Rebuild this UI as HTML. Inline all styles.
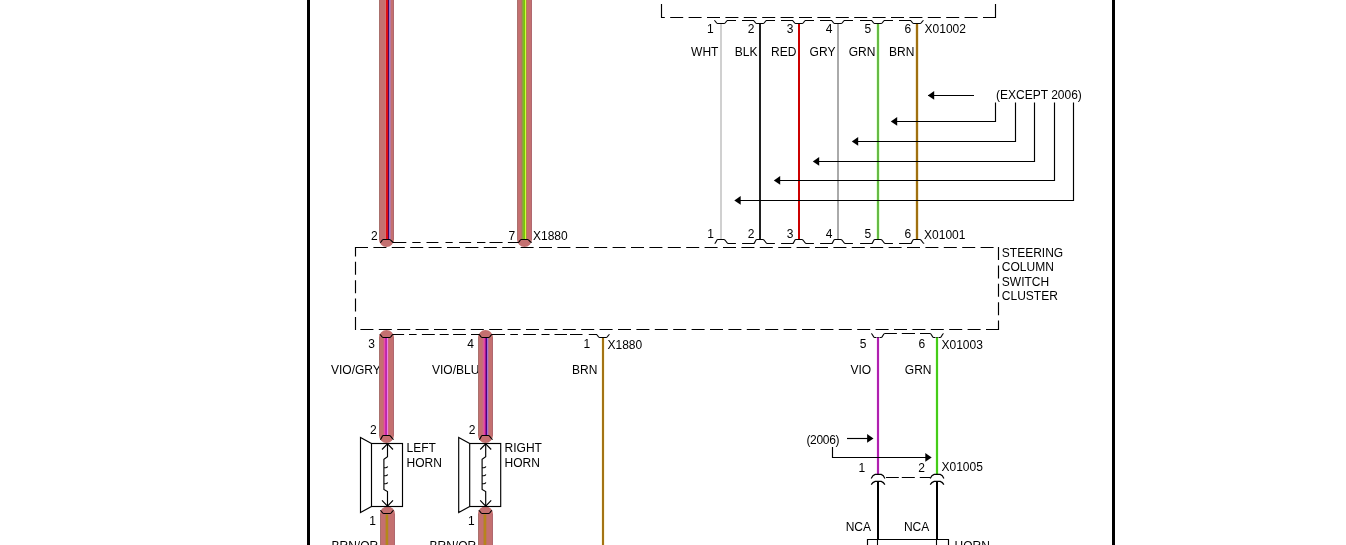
<!DOCTYPE html>
<html lang="en"><head><meta charset="utf-8"><title>Horn Circuit Wiring Diagram</title>
<style>html,body{margin:0;padding:0;background:#fff;overflow:hidden}svg{display:block}text{font-family:"Liberation Sans",Arial,sans-serif;font-size:12px;fill:#000}</style></head><body>
<svg width="1346" height="545" viewBox="0 0 1346 545">
<rect x="0" y="0" width="1346" height="545" fill="#fff"/>
<rect x="307" y="0" width="3" height="545" fill="#000"/>
<rect x="1112" y="0" width="3" height="545" fill="#000"/>
<text x="331" y="374" text-anchor="start">VIO/GRY</text>
<text x="432" y="374" text-anchor="start">VIO/BLU</text>
<text x="331.5" y="550.3" text-anchor="start">BRN/OR<tspan dx="2">G</tspan></text>
<text x="429.5" y="550.3" text-anchor="start">BRN/OR<tspan dx="2">G</tspan></text>
<path d="M379,-10 H394 V239.5 A7.5,7.5 0 0 1 379,239.5 Z" fill="#c47070"/>
<rect x="379" y="-10" width="1" height="249.5" fill="#aa706c"/>
<rect x="393" y="-10" width="1" height="249.5" fill="#b06870"/>
<path d="M517,-10 H532 V239.5 A7.5,7.5 0 0 1 517,239.5 Z" fill="#c47070"/>
<rect x="517" y="-10" width="1" height="249.5" fill="#aa706c"/>
<rect x="531" y="-10" width="1" height="249.5" fill="#b06870"/>
<path d="M379,337.6 A7.5,7.5 0 0 1 394,337.6 V435.5 A7.5,7.5 0 0 1 379,435.5 Z" fill="#c47070"/>
<rect x="379" y="337.6" width="1" height="97.89999999999998" fill="#aa706c"/>
<rect x="393" y="337.6" width="1" height="97.89999999999998" fill="#b06870"/>
<path d="M478,337.6 A7.5,7.5 0 0 1 493,337.6 V435.5 A7.5,7.5 0 0 1 478,435.5 Z" fill="#c47070"/>
<rect x="478" y="337.6" width="1" height="97.89999999999998" fill="#aa706c"/>
<rect x="492" y="337.6" width="1" height="97.89999999999998" fill="#b06870"/>
<path d="M380,513.9 A7.5,7.5 0 0 1 395,513.9 V560 H380 Z" fill="#c47070"/>
<rect x="380" y="513.9" width="1" height="46.10000000000002" fill="#aa706c"/>
<rect x="394" y="513.9" width="1" height="46.10000000000002" fill="#b06870"/>
<path d="M478,513.9 A7.5,7.5 0 0 1 493,513.9 V560 H478 Z" fill="#c47070"/>
<rect x="478" y="513.9" width="1" height="46.10000000000002" fill="#aa706c"/>
<rect x="492" y="513.9" width="1" height="46.10000000000002" fill="#b06870"/>
<rect x="385" y="0" width="1" height="239.5" fill="#d87070"/>
<rect x="386" y="0" width="2" height="239.5" fill="#dc0c14"/>
<rect x="388" y="0" width="1" height="239.5" fill="#500058"/>
<rect x="389" y="0" width="1" height="239.5" fill="#9a78c8"/>
<rect x="390" y="0" width="1" height="239.5" fill="#b878a0"/>
<rect x="521" y="0" width="1" height="239.5" fill="#b07860"/>
<rect x="522" y="0" width="1" height="239.5" fill="#90a040"/>
<rect x="523" y="0" width="1" height="239.5" fill="#80b828"/>
<rect x="524" y="0" width="1" height="239.5" fill="#78c800"/>
<rect x="525" y="0" width="1" height="239.5" fill="#ccff40"/>
<rect x="526" y="0" width="1" height="239.5" fill="#b08848"/>
<rect x="383" y="337.5" width="1" height="98.0" fill="#d06080"/>
<rect x="384" y="337.5" width="1" height="98.0" fill="#e850a8"/>
<rect x="385" y="337.5" width="1" height="98.0" fill="#c828a8"/>
<rect x="386" y="337.5" width="1" height="98.0" fill="#b828b0"/>
<rect x="387" y="337.5" width="1" height="98.0" fill="#f080e8"/>
<rect x="388" y="337.5" width="1" height="98.0" fill="#d06880"/>
<rect x="482" y="337.5" width="1" height="98.0" fill="#c86880"/>
<rect x="483" y="337.5" width="1" height="98.0" fill="#d86090"/>
<rect x="484" y="337.5" width="1" height="98.0" fill="#e040a8"/>
<rect x="485" y="337.5" width="1" height="98.0" fill="#a01890"/>
<rect x="486" y="337.5" width="1" height="98.0" fill="#480080"/>
<rect x="487" y="337.5" width="1" height="98.0" fill="#a070d8"/>
<rect x="488" y="337.5" width="1" height="98.0" fill="#b87090"/>
<rect x="385" y="514.5" width="1" height="40" fill="#bc7850"/>
<rect x="386" y="514.5" width="2" height="40" fill="#b48818"/>
<rect x="388" y="514.5" width="1" height="40" fill="#b87860"/>
<rect x="483" y="514.5" width="1" height="40" fill="#b87850"/>
<rect x="484" y="514.5" width="2" height="40" fill="#b8841c"/>
<rect x="486" y="514.5" width="1" height="40" fill="#c07458"/>
<line x1="661.5" y1="4" x2="661.5" y2="18" stroke="#000" stroke-width="1.15"/>
<line x1="995.5" y1="4" x2="995.5" y2="18" stroke="#000" stroke-width="1.15"/>
<line x1="996" y1="17.5" x2="661" y2="17.5" stroke="#000" stroke-width="1.15" stroke-dasharray="13 5.4" stroke-dashoffset="0"/>
<path d="M714.2,20.5 C715.8,20.8 716,23.5 717.6,23.5 H724.2 C725.8,23.5 726,20.8 727.6,20.5" stroke="#000" stroke-width="1.15" fill="none"/>
<path d="M753.2,20.5 C754.8,20.8 755,23.5 756.6,23.5 H763.2 C764.8,23.5 765,20.8 766.6,20.5" stroke="#000" stroke-width="1.15" fill="none"/>
<path d="M792.2,20.5 C793.8,20.8 794,23.5 795.6,23.5 H802.2 C803.8,23.5 804,20.8 805.6,20.5" stroke="#000" stroke-width="1.15" fill="none"/>
<path d="M831.2,20.5 C832.8,20.8 833,23.5 834.6,23.5 H841.2 C842.8,23.5 843,20.8 844.6,20.5" stroke="#000" stroke-width="1.15" fill="none"/>
<path d="M871.2,20.5 C872.8,20.8 873,23.5 874.6,23.5 H881.2 C882.8,23.5 883,20.8 884.6,20.5" stroke="#000" stroke-width="1.15" fill="none"/>
<path d="M910.2,20.5 C911.8,20.8 912,23.5 913.6,23.5 H920.2 C921.8,23.5 922,20.8 923.6,20.5" stroke="#000" stroke-width="1.15" fill="none"/>
<path d="M727,20.5H736 M742,20.5H754" stroke="#000" stroke-width="1.15" fill="none"/>
<path d="M766,20.5H775 M781,20.5H793" stroke="#000" stroke-width="1.15" fill="none"/>
<path d="M805,20.5H814 M820,20.5H832" stroke="#000" stroke-width="1.15" fill="none"/>
<path d="M844,20.5H853 M860,20.5H872" stroke="#000" stroke-width="1.15" fill="none"/>
<path d="M884,20.5H893 M899,20.5H911" stroke="#000" stroke-width="1.15" fill="none"/>
<text x="713.6" y="33" text-anchor="end">1</text>
<text x="754.4" y="33" text-anchor="end">2</text>
<text x="793.4" y="33" text-anchor="end">3</text>
<text x="832.5" y="33" text-anchor="end">4</text>
<text x="871.1" y="33" text-anchor="end">5</text>
<text x="911.1" y="33" text-anchor="end">6</text>
<text x="924.6" y="33" text-anchor="start">X01002</text>
<text x="718.4" y="56.3" text-anchor="end">WHT</text>
<text x="757.4" y="56.3" text-anchor="end">BLK</text>
<text x="796.4" y="56.3" text-anchor="end">RED</text>
<text x="835.4" y="56.3" text-anchor="end">GRY</text>
<text x="875.4" y="56.3" text-anchor="end">GRN</text>
<text x="914.4" y="56.3" text-anchor="end">BRN</text>
<rect x="720" y="24" width="2" height="215.5" fill="#d0d0d0"/>
<rect x="759" y="24" width="2" height="215.5" fill="#202020"/>
<rect x="798" y="24" width="2" height="215.5" fill="#cc0000"/>
<rect x="837" y="24" width="2" height="215.5" fill="#aaaaaa"/>
<rect x="877" y="24" width="2" height="215.5" fill="#66bb44"/>
<rect x="916" y="24" width="2" height="215.5" fill="#a07010"/>
<rect x="876" y="24" width="1" height="215.5" fill="#e4ffd8"/>
<rect x="879" y="24" width="1" height="215.5" fill="#e4ffd8"/>
<rect x="915" y="24" width="1" height="215.5" fill="#f4ead0"/>
<rect x="918" y="24" width="1" height="215.5" fill="#f4ead0"/>
<text x="996" y="99.3" text-anchor="start">(EXCEPT 2006)</text>
<line x1="928" y1="95.5" x2="974" y2="95.5" stroke="#000" stroke-width="1.15"/>
<polygon points="927.8,95.5 934.2,91.1 934.2,99.7" fill="#000"/>
<path d="M893,121.5 H995.5 V102.5" stroke="#000" stroke-width="1.15" fill="none"/>
<polygon points="890.8,121.5 897.2,117.1 897.2,125.7" fill="#000"/>
<path d="M854,141.5 H1015.5 V102.5" stroke="#000" stroke-width="1.15" fill="none"/>
<polygon points="851.8,141.5 858.2,137.1 858.2,145.7" fill="#000"/>
<path d="M815,161.5 H1034.5 V102.5" stroke="#000" stroke-width="1.15" fill="none"/>
<polygon points="812.8,161.5 819.2,157.1 819.2,165.7" fill="#000"/>
<path d="M776,180.5 H1054.5 V102.5" stroke="#000" stroke-width="1.15" fill="none"/>
<polygon points="773.8,180.5 780.2,176.1 780.2,184.7" fill="#000"/>
<path d="M736.5,200.5 H1073.5 V102.5" stroke="#000" stroke-width="1.15" fill="none"/>
<polygon points="734.3,200.5 740.7,196.1 740.7,204.7" fill="#000"/>
<path d="M714.6,243.5 C716.2,243.2 716.2,239.5 717.8,239.5 H724 C725.6,239.5 726.2,243.0 728.2,243.5" stroke="#000" stroke-width="1.15" fill="none"/>
<path d="M753.6,243.5 C755.2,243.2 755.2,239.5 756.8,239.5 H763 C764.6,239.5 765.2,243.0 767.2,243.5" stroke="#000" stroke-width="1.15" fill="none"/>
<path d="M792.6,243.5 C794.2,243.2 794.2,239.5 795.8,239.5 H802 C803.6,239.5 804.2,243.0 806.2,243.5" stroke="#000" stroke-width="1.15" fill="none"/>
<path d="M831.6,243.5 C833.2,243.2 833.2,239.5 834.8,239.5 H841 C842.6,239.5 843.2,243.0 845.2,243.5" stroke="#000" stroke-width="1.15" fill="none"/>
<path d="M871.6,243.5 C873.2,243.2 873.2,239.5 874.8,239.5 H881 C882.6,239.5 883.2,243.0 885.2,243.5" stroke="#000" stroke-width="1.15" fill="none"/>
<path d="M910.6,243.5 C912.2,243.2 912.2,239.5 913.8,239.5 H920 C921.6,239.5 922.2,243.0 924.2,243.5" stroke="#000" stroke-width="1.15" fill="none"/>
<path d="M727.8,243.5H735.9 M742.1,243.5H754.4" stroke="#000" stroke-width="1.15" fill="none"/>
<path d="M766.8,243.5H774.9 M781.1,243.5H793.4" stroke="#000" stroke-width="1.15" fill="none"/>
<path d="M805.8,243.5H813.9 M820.1,243.5H832.4" stroke="#000" stroke-width="1.15" fill="none"/>
<path d="M844.8,243.5H852.9 M860.1,243.5H872.4" stroke="#000" stroke-width="1.15" fill="none"/>
<path d="M884.8,243.5H892.9 M899.1,243.5H911.4" stroke="#000" stroke-width="1.15" fill="none"/>
<text x="714.0" y="238" text-anchor="end">1</text>
<text x="754.4" y="238" text-anchor="end">2</text>
<text x="793.4" y="238" text-anchor="end">3</text>
<text x="832.5" y="238" text-anchor="end">4</text>
<text x="871.1" y="238" text-anchor="end">5</text>
<text x="911.1" y="238" text-anchor="end">6</text>
<text x="924.1" y="239" text-anchor="start">X01001</text>
<line x1="355" y1="247.5" x2="996" y2="247.5" stroke="#000" stroke-width="1.15" stroke-dasharray="13 5.4" stroke-dashoffset="0"/>
<line x1="999" y1="329.5" x2="356" y2="329.5" stroke="#000" stroke-width="1.15" stroke-dasharray="13 5.4" stroke-dashoffset="0"/>
<line x1="355.5" y1="330" x2="355.5" y2="247" stroke="#000" stroke-width="1.15" stroke-dasharray="13 5.4" stroke-dashoffset="0"/>
<line x1="998.5" y1="247" x2="998.5" y2="330" stroke="#000" stroke-width="1.15" stroke-dasharray="13 5.4" stroke-dashoffset="0"/>
<text x="1001.8" y="256.7" text-anchor="start">STEERING</text>
<text x="1001.8" y="271" text-anchor="start">COLUMN</text>
<text x="1001.8" y="286" text-anchor="start">SWITCH</text>
<text x="1001.8" y="300" text-anchor="start">CLUSTER</text>
<path d="M380.1,242.5 C381.7,242.2 381.7,239.5 383.3,239.5 H389.5 C391.1,239.5 391.7,242.0 393.7,242.5" stroke="#000" stroke-width="1.15" fill="none"/>
<path d="M518.1,242.5 C519.7,242.2 519.7,239.5 521.3,239.5 H527.5 C529.1,239.5 529.7,242.0 531.7,242.5" stroke="#000" stroke-width="1.15" fill="none"/>
<path d="M392.6,242.5H406.3 M412.3,242.5H420.6 M426.5,242.5H438.4 M445.5,242.5H452.7 M459.2,242.5H471.1 M477,242.5H485.4 M489.5,242.5H502.6 M507.9,242.5H518.5" stroke="#000" stroke-width="1.15" fill="none"/>
<text x="377.8" y="239.7" text-anchor="end">2</text>
<text x="515.3" y="240" text-anchor="end">7</text>
<text x="533" y="240" text-anchor="start">X1880</text>
<path d="M379.7,334.5 C381.3,334.8 381.5,337.5 383.1,337.5 H389.7 C391.3,337.5 391.5,334.8 393.1,334.5" stroke="#000" stroke-width="1.15" fill="none"/>
<path d="M478.7,334.5 C480.3,334.8 480.5,337.5 482.1,337.5 H488.7 C490.3,337.5 490.5,334.8 492.1,334.5" stroke="#000" stroke-width="1.15" fill="none"/>
<path d="M596.2,334.5 C597.8,334.8 598,337.5 599.6,337.5 H606.2 C607.8,337.5 608,334.8 609.6,334.5" stroke="#000" stroke-width="1.15" fill="none"/>
<path d="M392.8,334.5H404.1 M409,334.5H416.6 M421.9,334.5H434.8 M439.7,334.5H448.7 M453.1,334.5H466 M471,334.5H479.5 M491.8,334.5H505 M510.3,334.5H517.9 M523.2,334.5H535.9 M541.5,334.5H549.5 M554.5,334.5H567 M570,334.5H582.5 M588.8,334.5H597" stroke="#000" stroke-width="1.15" fill="none"/>
<text x="375" y="348" text-anchor="end">3</text>
<text x="474" y="348" text-anchor="end">4</text>
<text x="590.3" y="347.6" text-anchor="end">1</text>
<text x="607.5" y="348.7" text-anchor="start">X1880</text>
<text x="572" y="374" text-anchor="start">BRN</text>
<rect x="602" y="338" width="2" height="220" fill="#a47414"/>
<rect x="601" y="338" width="1" height="220" fill="#fbf6e0"/>
<rect x="604" y="338" width="1" height="220" fill="#fbf6e0"/>
<rect x="371.5" y="443.5" width="31" height="63" fill="none" stroke="#000" stroke-width="1.15"/>
<path d="M371.5,443.5 L360.5,437.5 V512.5 L371.5,506.5" stroke="#000" stroke-width="1.15" fill="none"/>
<path d="M382.0,449.5 L387.5,443.8 L393.0,449.5" stroke="#000" stroke-width="1.15" fill="none"/>
<path d="M382.0,500.3 L387.5,506.2 L393.0,500.3" stroke="#000" stroke-width="1.15" fill="none"/>
<path d="M387.5,443.8 V456.7 L383.9,459.3 V489.5 L387.5,491.6 V506.2 M383.9,467.7 h2 q1.3,-0.1 1.8,-1.1 M383.9,475.7 h2 q1.3,-0.1 1.8,-1.1 M383.9,483.7 h2 q1.3,-0.1 1.8,-1.1" stroke="#000" stroke-width="1.15" fill="none"/>
<text x="406.5" y="451.7" text-anchor="start">LEFT</text>
<text x="406.5" y="466.7" text-anchor="start">HORN</text>
<rect x="469.7" y="443.5" width="31" height="63" fill="none" stroke="#000" stroke-width="1.15"/>
<path d="M469.7,443.5 L458.7,437.5 V512.5 L469.7,506.5" stroke="#000" stroke-width="1.15" fill="none"/>
<path d="M480.2,449.5 L485.7,443.8 L491.2,449.5" stroke="#000" stroke-width="1.15" fill="none"/>
<path d="M480.2,500.3 L485.7,506.2 L491.2,500.3" stroke="#000" stroke-width="1.15" fill="none"/>
<path d="M485.7,443.8 V456.7 L482.09999999999997,459.3 V489.5 L485.7,491.6 V506.2 M482.09999999999997,467.7 h2 q1.3,-0.1 1.8,-1.1 M482.09999999999997,475.7 h2 q1.3,-0.1 1.8,-1.1 M482.09999999999997,483.7 h2 q1.3,-0.1 1.8,-1.1" stroke="#000" stroke-width="1.15" fill="none"/>
<text x="504.6" y="451.7" text-anchor="start">RIGHT</text>
<text x="504.6" y="466.7" text-anchor="start">HORN</text>
<path d="M380.1,439.5 C381.7,439.2 381.7,435.5 383.3,435.5 H389.5 C391.1,435.5 391.7,439.0 393.7,439.5" stroke="#000" stroke-width="1.15" fill="none"/>
<path d="M380.2,510.5 C381.8,510.8 382,513.5 383.6,513.5 H390.2 C391.8,513.5 392,510.8 393.6,510.5" stroke="#000" stroke-width="1.15" fill="none"/>
<path d="M479.1,439.5 C480.7,439.2 480.7,435.5 482.3,435.5 H488.5 C490.1,435.5 490.7,439.0 492.7,439.5" stroke="#000" stroke-width="1.15" fill="none"/>
<path d="M478.7,510.5 C480.3,510.8 480.5,513.5 482.1,513.5 H488.7 C490.3,513.5 490.5,510.8 492.1,510.5" stroke="#000" stroke-width="1.15" fill="none"/>
<text x="376.6" y="433.7" text-anchor="end">2</text>
<text x="475.4" y="433.7" text-anchor="end">2</text>
<text x="376" y="524.7" text-anchor="end">1</text>
<text x="474.8" y="524.7" text-anchor="end">1</text>
<path d="M871.2,333.5 C872.8,333.8 873,337.5 874.6,337.5 H881.2 C882.8,337.5 883,333.8 884.6,333.5" stroke="#000" stroke-width="1.15" fill="none"/>
<path d="M930.2,333.5 C931.8,333.8 932,337.5 933.6,337.5 H940.2 C941.8,337.5 942,333.8 943.6,333.5" stroke="#000" stroke-width="1.15" fill="none"/>
<path d="M884.4,333.5H896.9 M901.8,333.5H915 M920,333.5H930.4" stroke="#000" stroke-width="1.15" fill="none"/>
<text x="866.5" y="347.6" text-anchor="end">5</text>
<text x="925.3" y="347.6" text-anchor="end">6</text>
<text x="941.5" y="348.6" text-anchor="start">X01003</text>
<text x="871.2" y="374" text-anchor="end">VIO</text>
<text x="931.5" y="374" text-anchor="end">GRN</text>
<rect x="877" y="337.5" width="2" height="136.5" fill="#b020b0"/>
<rect x="876" y="337.5" width="1" height="136.5" fill="#fce8fc"/>
<rect x="879" y="337.5" width="1" height="136.5" fill="#fce8fc"/>
<rect x="936" y="337.5" width="2" height="136.5" fill="#44cc18"/>
<rect x="935" y="337.5" width="1" height="136.5" fill="#e8ffe0"/>
<rect x="938" y="337.5" width="1" height="136.5" fill="#e8ffe0"/>
<text x="806.4" y="443.6" text-anchor="start" letter-spacing="-0.3">(2006)</text>
<line x1="847" y1="438.5" x2="870" y2="438.5" stroke="#000" stroke-width="1.15"/>
<polygon points="873.5,438.5 867.0999999999999,434.1 867.0999999999999,442.7" fill="#000"/>
<path d="M832.5,447 V457.5 H928" stroke="#000" stroke-width="1.15" fill="none"/>
<polygon points="931.7,457.5 925.3,453.1 925.3,461.7" fill="#000"/>
<path d="M871.2,478.5 Q872.6,475.29999999999995 875.2,474.4 H881.2 Q883.6,475.29999999999995 884.9,478.5" stroke="#000" stroke-width="1.15" fill="none"/>
<path d="M871.2,484.6 Q872.6,482.29999999999995 875.2,481.4 H881.2 Q883.6,482.29999999999995 884.9,484.6" stroke="#000" stroke-width="1.15" fill="none"/>
<path d="M930.2,478.5 Q931.6,475.29999999999995 934.2,474.4 H940.2 Q942.6,475.29999999999995 943.9,478.5" stroke="#000" stroke-width="1.15" fill="none"/>
<path d="M930.2,484.6 Q931.6,482.29999999999995 934.2,481.4 H940.2 Q942.6,482.29999999999995 943.9,484.6" stroke="#000" stroke-width="1.15" fill="none"/>
<path d="M886,477.5H898.8 M901.8,477.5H914.8 M919.8,477.5H930.6" stroke="#000" stroke-width="1.15" fill="none"/>
<text x="865.3" y="471.7" text-anchor="end">1</text>
<text x="925" y="471.8" text-anchor="end">2</text>
<text x="941.5" y="470.6" text-anchor="start">X01005</text>
<rect x="877" y="481" width="2" height="59" fill="#000"/>
<rect x="936" y="481" width="2" height="59" fill="#000"/>
<text x="845.7" y="530.9" text-anchor="start">NCA</text>
<text x="903.9" y="530.9" text-anchor="start">NCA</text>
<path d="M867.5,546 V539.5 H948.5 V546" stroke="#000" stroke-width="1.15" fill="none"/>
<line x1="877.5" y1="540" x2="877.5" y2="546" stroke="#000" stroke-width="1.1"/>
<line x1="936.5" y1="540" x2="936.5" y2="546" stroke="#000" stroke-width="1.1"/>
<text x="954.6" y="550.1" text-anchor="start">HORN</text>
</svg></body></html>
